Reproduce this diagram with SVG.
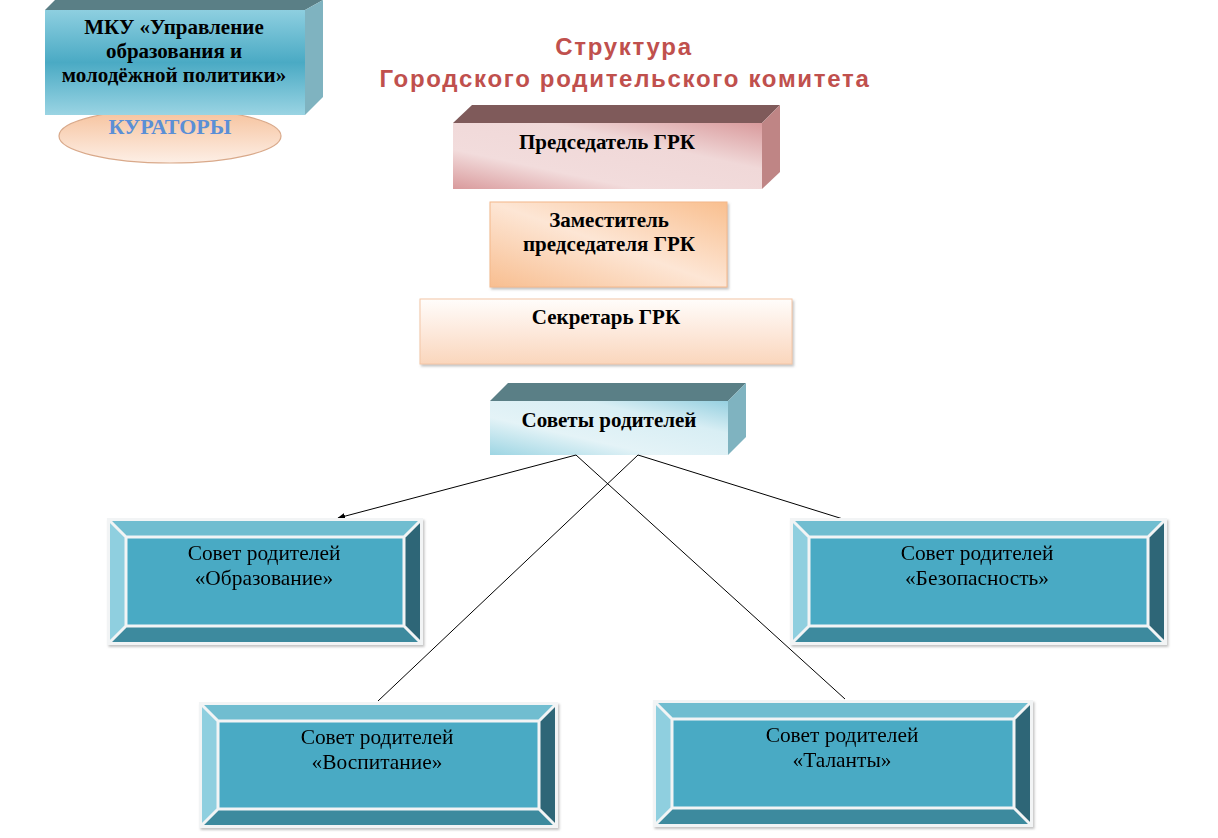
<svg xmlns="http://www.w3.org/2000/svg" width="1218" height="838" viewBox="0 0 1218 838">
<style>
.t{font-family:"Liberation Serif","Times New Roman",serif;fill:#000;text-anchor:middle}
.b{font-weight:bold;font-size:21px}
.r{font-size:21.4px}
.title{font-family:"Liberation Sans",Arial,sans-serif;font-weight:bold;font-size:24px;fill:#c0504d;text-anchor:middle;letter-spacing:1.7px}
.line{stroke:#000;stroke-width:1;fill:none}
.bt{fill:#6fbdd0}.bl{fill:#8fcfdf}.br{fill:#2d6677}.bb{fill:#3d8a9e}.bc{fill:#4aaac4}
.sep{stroke:#f2f4f5;stroke-width:3;fill:none}
</style>
<defs>
<linearGradient id="gTeal" x1="0" y1="0" x2="0" y2="1">
<stop offset="0" stop-color="#8ecfe0"/><stop offset="0.5" stop-color="#4aaac4"/><stop offset="1" stop-color="#9ad4e3"/>
</linearGradient>
<linearGradient id="gPink" x1="0" y1="1" x2="1" y2="0">
<stop offset="0" stop-color="#d99a9c"/><stop offset="0.3" stop-color="#f2dcdc"/><stop offset="0.65" stop-color="#f0d8d8"/><stop offset="1" stop-color="#d99a9c"/>
</linearGradient>
<linearGradient id="gOrange2" x1="1" y1="0" x2="0" y2="1">
<stop offset="0" stop-color="#f9bf8f"/><stop offset="0.5" stop-color="#fde6d5"/><stop offset="1" stop-color="#f8be90"/>
</linearGradient>
<linearGradient id="gSec" x1="0" y1="0" x2="0" y2="1">
<stop offset="0" stop-color="#fffdfb"/><stop offset="0.5" stop-color="#fde9dc"/><stop offset="1" stop-color="#fad6bc"/>
</linearGradient>
<linearGradient id="gCyan" x1="0" y1="1" x2="1" y2="0">
<stop offset="0" stop-color="#9dd5e3"/><stop offset="0.35" stop-color="#e4f3f7"/><stop offset="0.7" stop-color="#d8eef4"/><stop offset="1" stop-color="#96d0e0"/>
</linearGradient>
<linearGradient id="gEll" x1="0" y1="0" x2="0" y2="1">
<stop offset="0" stop-color="#f6c19b"/><stop offset="1" stop-color="#fdefe6"/>
</linearGradient>
<marker id="arr" viewBox="0 0 10 10" refX="9" refY="5" markerWidth="8" markerHeight="8" orient="auto" markerUnits="userSpaceOnUse">
<path d="M0,1 L10,5 L0,9 z" fill="#000"/>
</marker>
<filter id="sh" x="-5%" y="-5%" width="112%" height="120%">
<feDropShadow dx="1.5" dy="2" stdDeviation="1" flood-color="#888" flood-opacity="0.5"/>
</filter>
</defs>
<rect width="1218" height="838" fill="#fff"/>

<g id="title">
<text class="title" x="624" y="55">Структура</text>
<text class="title" x="625" y="87">Городского родительского комитета</text>
</g>

<g id="kuratory">
<ellipse cx="170" cy="136" rx="111" ry="27" fill="url(#gEll)" stroke="#d9a98a" stroke-width="1.2"/>
<text class="t" x="170" y="134" style="font-weight:bold;font-size:22px;fill:#5b8fd6">КУРАТОРЫ</text>
</g>

<g id="mku">
<polygon points="45,10 55,0 323,0 305,10" fill="#5a7f86"/>
<polygon points="305,10 323,0 323,97 305,115" fill="#7fb3c0"/>
<rect x="45" y="10" width="260" height="105" fill="url(#gTeal)"/>
<text class="t b" x="174" y="34">МКУ «Управление</text>
<text class="t b" x="174" y="58">образования и</text>
<text class="t b" x="174" y="82">молодёжной политики»</text>
</g>

<g id="predsedatel">
<polygon points="453,123 472,105 780,105 762,123" fill="#7f5a5a"/>
<polygon points="762,123 780,105 780,172 762,189" fill="#bf8585"/>
<rect x="453" y="123" width="309" height="66" fill="url(#gPink)"/>
<text class="t b" x="607" y="149">Председатель ГРК</text>
</g>

<g id="zamestitel">
<rect x="490" y="202" width="237" height="85" fill="url(#gOrange2)" stroke="#f4b88a" stroke-width="1" filter="url(#sh)"/>
<text class="t b" x="609" y="227">Заместитель</text>
<text class="t b" x="609" y="251">председателя ГРК</text>
</g>

<g id="sekretar">
<rect x="420" y="299" width="372" height="65" fill="url(#gSec)" stroke="#f4c6a6" stroke-width="1" filter="url(#sh)"/>
<text class="t b" x="606" y="324">Секретарь ГРК</text>
</g>

<g id="sovety">
<polygon points="490,401 508,383 746,383 728,401" fill="#5a7f86"/>
<polygon points="728,401 746,383 746,437 728,455" fill="#7fb3c0"/>
<rect x="490" y="401" width="238" height="54" fill="url(#gCyan)"/>
<text class="t b" x="609" y="427">Советы родителей</text>
</g>

<g id="connectors">
<line class="line" x1="576" y1="455" x2="338" y2="518" marker-end="url(#arr)"/>
<line class="line" x1="576" y1="455" x2="845" y2="699"/>
<line class="line" x1="638" y1="455" x2="378" y2="701"/>
<line class="line" x1="638" y1="455" x2="843" y2="519"/>
</g>

<g id="obrazovanie" filter="url(#sh)">
<rect x="107" y="518" width="316" height="127" fill="#f2f4f5"/>
<polygon class="bt" points="110,521 420,521 404,537 126,537"/>
<polygon class="bl" points="110,521 126,537 126,626 110,642"/>
<polygon class="br" points="420,521 420,642 404,626 404,537"/>
<polygon class="bb" points="110,642 126,626 404,626 420,642"/>
<rect class="bc" x="126" y="537" width="278" height="89"/>
<path class="sep" d="M110,521 L126,537 M420,521 L404,537 M110,642 L126,626 M420,642 L404,626 M126,537 H404 V626 H126 Z"/>
<text class="t r" x="264" y="560">Совет родителей</text>
<text class="t r" x="264" y="585">«Образование»</text>
</g>

<g id="bezopasnost" filter="url(#sh)">
<rect x="790" y="518" width="377" height="127" fill="#f2f4f5"/>
<polygon class="bt" points="793,521 1164,521 1148,537 809,537"/>
<polygon class="bl" points="793,521 809,537 809,626 793,642"/>
<polygon class="br" points="1164,521 1164,642 1148,626 1148,537"/>
<polygon class="bb" points="793,642 809,626 1148,626 1164,642"/>
<rect class="bc" x="809" y="537" width="339" height="89"/>
<path class="sep" d="M793,521 L809,537 M1164,521 L1148,537 M793,642 L809,626 M1164,642 L1148,626 M809,537 H1148 V626 H809 Z"/>
<text class="t r" x="977" y="560">Совет родителей</text>
<text class="t r" x="977" y="585">«Безопасность»</text>
</g>

<g id="vospitanie" filter="url(#sh)">
<rect x="199" y="702" width="359" height="126" fill="#f2f4f5"/>
<polygon class="bt" points="202,705 555,705 539,721 218,721"/>
<polygon class="bl" points="202,705 218,721 218,809 202,825"/>
<polygon class="br" points="555,705 555,825 539,809 539,721"/>
<polygon class="bb" points="202,825 218,809 539,809 555,825"/>
<rect class="bc" x="218" y="721" width="321" height="88"/>
<path class="sep" d="M202,705 L218,721 M555,705 L539,721 M202,825 L218,809 M555,825 L539,809 M218,721 H539 V809 H218 Z"/>
<text class="t r" x="377" y="744">Совет родителей</text>
<text class="t r" x="377" y="769">«Воспитание»</text>
</g>

<g id="talanty" filter="url(#sh)">
<rect x="653" y="700" width="380" height="127" fill="#f2f4f5"/>
<polygon class="bt" points="656,703 1030,703 1014,719 672,719"/>
<polygon class="bl" points="656,703 672,719 672,808 656,824"/>
<polygon class="br" points="1030,703 1030,824 1014,808 1014,719"/>
<polygon class="bb" points="656,824 672,808 1014,808 1030,824"/>
<rect class="bc" x="672" y="719" width="342" height="89"/>
<path class="sep" d="M656,703 L672,719 M1030,703 L1014,719 M656,824 L672,808 M1030,824 L1014,808 M672,719 H1014 V808 H672 Z"/>
<text class="t r" x="842" y="742">Совет родителей</text>
<text class="t r" x="842" y="767">«Таланты»</text>
</g>
</svg>
